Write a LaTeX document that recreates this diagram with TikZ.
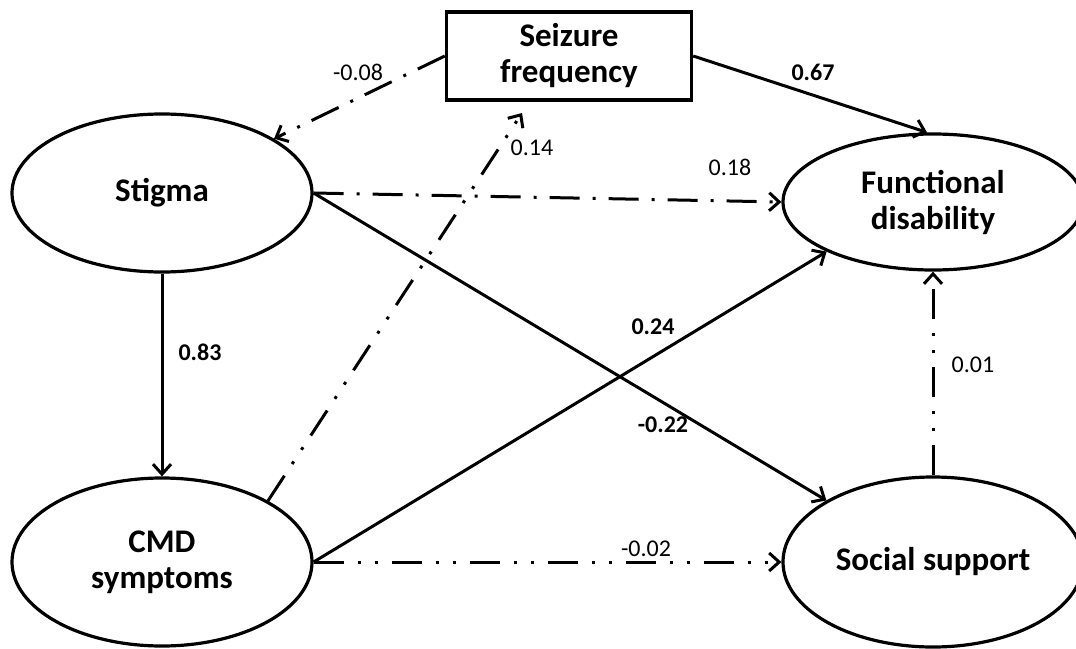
\documentclass[tikz,border=0pt]{standalone}
\usepackage{fontspec}
\setmainfont{Carlito}
\usetikzlibrary{arrows.meta,shapes.geometric,positioning}

\begin{document}
\begin{tikzpicture}[
		x=0.5pt, y=-0.5pt,
		>={Straight Barb[length=5pt,width=9pt]},
		latent/.style={draw, ellipse, line width=1.6pt, minimum width=150pt, align=center, inner sep=0pt, font=\fontsize{16.5}{18}\selectfont\bfseries},
		observed/.style={draw, rectangle, line width=1.7pt, minimum width=122.5pt, minimum height=44pt, align=center, inner sep=0pt, font=\fontsize{16.5}{18}\selectfont\bfseries},
		effect/.style={->, line width=1.5pt},
		dashdot/.style={effect, dash pattern=on 15pt off 6.5pt on 1.5pt off 6.5pt},
		dashdotdot/.style={effect, dash pattern=on 15pt off 7pt on 1.5pt off 7pt on 1.5pt off 7pt},
		coef/.style={inner sep=1pt, font=\fontsize{12}{14}\selectfont},
		coefb/.style={inner sep=1pt, font=\fontsize{12}{14}\selectfont\bfseries}
		]
		
		\useasboundingbox (0,0) rectangle (1076,648);
		
		% --------------------------------------------------
		% Variables
		% --------------------------------------------------
		\node[observed] (seiz) at (569,56) {Seizure\\frequency};
		\node[latent, minimum height=79pt] (stig) at (162,193) {Stigma};
		\node[latent, minimum height=84pt] (cmd) at (162,562) {CMD\\symptoms};
		\node[latent, minimum height=68pt] (func) at (933,202) {Functional\\disability};
		\node[latent, minimum height=85pt] (soc) at (933,562) {Social support};
		
		\coordinate (seizin) at (522,113);
		
		% --------------------------------------------------
		% Paths
		% --------------------------------------------------
		\draw[dashdot] (seiz.west) -- (stig);
		\draw[effect] (seiz.east) -- ([xshift=-3pt]func.north);
		\draw[dashdotdot] (cmd.30) -- (seizin);
		\draw[dashdot] (stig.east) -- (func.west);
		\draw[effect] (stig.east) -- (soc.150);
		\draw[effect] (stig.south) -- (cmd.north);
		\draw[effect] (cmd.east) -- (func.205);
		\draw[dashdotdot] (cmd.east) -- (soc.west);
		\draw[dashdotdot] (soc.north) -- (func.south);
		
		% --------------------------------------------------
		% Coefficients
		% --------------------------------------------------
		\node[coef] (c1) at (358,72) {-0.08};
		\node[coefb] (c2) at (813,72) {0.67};
		\node[coef] (c3) at (532,148) {0.14};
		\node[coef] (c4) at (730,167) {0.18};
		\node[coefb] (c5) at (200,352) {0.83};
		\node[coefb] (c6) at (653,327) {0.24};
		\node[coefb] (c7) at (663,425) {-0.22};
		\node[coef] (c8) at (973,365) {0.01};
		\node[coef] (c9) at (646,549) {-0.02};
		
	\end{tikzpicture}
\end{document}
